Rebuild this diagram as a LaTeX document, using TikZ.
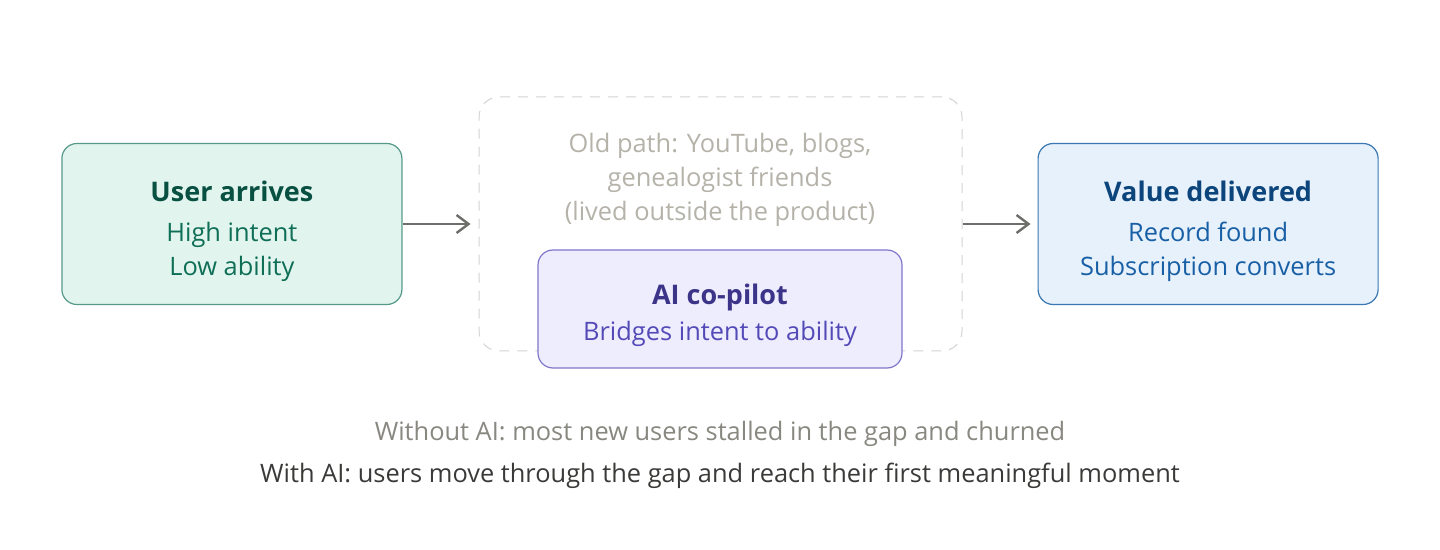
\documentclass[tikz,border=0pt]{standalone}
\usepackage{fontspec}
\setmainfont{Open Sans}
\usetikzlibrary{positioning,arrows.meta}
\definecolor{tealfill}{HTML}{E1F5EE}
\definecolor{tealline}{HTML}{0F6E56}
\definecolor{tealhead}{HTML}{085041}
\definecolor{purplefill}{HTML}{EEEDFE}
\definecolor{purpleline}{HTML}{534AB7}
\definecolor{purplehead}{HTML}{3C3489}
\definecolor{bluefill}{HTML}{E6F1FB}
\definecolor{blueline}{HTML}{185FA5}
\definecolor{bluehead}{HTML}{0C447C}
\definecolor{gapgray}{HTML}{D3D3D1}
\definecolor{oldgray}{HTML}{B4B2A9}
\definecolor{arrowgray}{HTML}{6E6E6A}
\definecolor{notegray}{HTML}{888780}
\definecolor{notedark}{HTML}{3A3A38}
\newcommand{\headfont}{\fontsize{13.5}{17}\selectfont\bfseries}
\newcommand{\bodyfont}{\fontsize{12.7}{17}\selectfont}
\tikzstyle{stage} = [draw, rectangle, rounded corners=7.5pt, line width=0.6pt, text centered, align=center, minimum width=170pt, minimum height=80.5pt, inner sep=0pt, text height=55pt, font=\bodyfont]
\tikzstyle{userbox} = [stage, fill=tealfill, draw=tealline!70, text=tealline]
\tikzstyle{valuebox} = [stage, fill=bluefill, draw=blueline!85, text=blueline]
\tikzstyle{pilotbox} = [stage, fill=purplefill, draw=purpleline!75, text=purpleline, minimum width=182pt, minimum height=59pt, text height=35pt]
\tikzstyle{gapbox} = [draw=gapgray, dashed, dash pattern=on 5pt off 4pt, rounded corners=10pt, line width=0.5pt, minimum width=241.5pt, minimum height=127pt]
\tikzstyle{note} = [text centered, align=center, font=\bodyfont]
\tikzstyle{line} = [draw=arrowgray, line width=1.2pt, -{Straight Barb[length=6pt,width=9pt,line width=1.2pt]}]

\begin{document}
\begin{tikzpicture}[x=0.5pt, y=-0.5pt]
    \useasboundingbox (0,0) rectangle (1440,550);
    % Place nodes
    \node [gapbox] (gap) at (720.5,224) {};
    \node [userbox, left=38pt of gap] (user) {{\headfont\color{tealhead}User arrives}\\[3pt]High intent\\Low ability};
    \node [valuebox, right=37.5pt of gap] (value) {{\headfont\color{bluehead}Value delivered}\\[3pt]Record found\\Subscription converts};
    \node [note, text=oldgray] (oldpath) at (720,180) {Old path: YouTube, blogs,\\genealogist friends\\(lived outside the product)};
    \node [pilotbox] (pilot) at (720,309) {{\headfont\color{purplehead}AI co-pilot}\\[1pt]Bridges intent to ability};
    \node [note, text=notegray] (without) at (720,434) {Without AI: most new users stalled in the gap and churned};
    \node [note, text=notedark] (with) at (720,476) {With AI: users move through the gap and reach their first meaningful moment};
    % Draw edges
    \path [line, shorten >=4pt] (user) -- (gap);
    \path [line, shorten >=3.5pt] (gap) -- (value);
\end{tikzpicture}
\end{document}
